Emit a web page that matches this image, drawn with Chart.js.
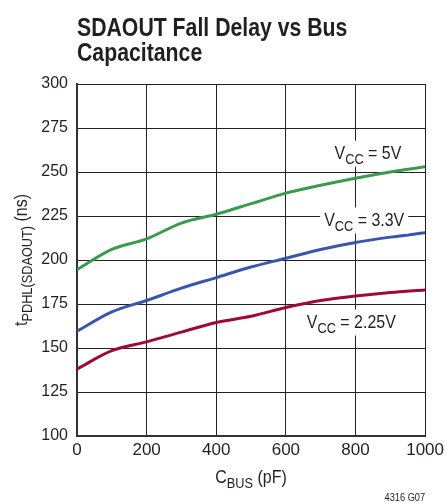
<!DOCTYPE html>
<html>
<head>
<meta charset="utf-8">
<script src="https://cdn.jsdelivr.net/npm/chart.js@4"></script>
<style>
  html, body { margin: 0; padding: 0; background: #fff; }
  #wrap { width: 448px; height: 504px; }
</style>
</head>
<body>
<div id="wrap"><canvas id="chart" width="448" height="504"></canvas></div>
<script>
// values
const capValues = [0, 100, 200, 300, 400, 500, 600, 700, 800, 900, 1000];
const delay5V   = [194.5, 206, 212, 221, 226, 232, 238, 242.5, 246.5, 250, 253];
const delay3V3  = [159.5, 170.5, 177, 184, 190, 196, 201, 206, 210, 213, 215.5];
const delay2V25 = [138, 148.5, 153.5, 159, 164.5, 168, 173, 177, 179.5, 181.5, 183];
const seriesNames = ['VCC = 5V', 'VCC = 3.3V', 'VCC = 2.25V'];

const FONT = '"Liberation Sans", Arial, sans-serif';
const TEXT = '#231f20';
const NARROW = 0.84;

// draw text pieces (some as subscript), squeezed horizontally
function measureParts(ctx, parts, size, weight) {
    let total = 0;
    parts.forEach(p => {
        ctx.font = (weight || '') + ' ' + (p.sub ? size * 0.8 : size) + 'px ' + FONT;
        p.w = ctx.measureText(p.t).width * NARROW;
        total += p.w;
    });
    return total;
}

function drawParts(ctx, parts, x, y, size, align, weight) {
    const total = measureParts(ctx, parts, size, weight);
    let cx = align === 'center' ? x - total / 2 : (align === 'right' ? x - total : x);
    ctx.textAlign = 'left';
    ctx.textBaseline = 'alphabetic';
    parts.forEach(p => {
        ctx.font = (weight || '') + ' ' + (p.sub ? size * 0.8 : size) + 'px ' + FONT;
        ctx.save();
        ctx.translate(cx, p.sub ? y + size * 0.28 : y);
        ctx.scale(NARROW, 1);
        ctx.fillText(p.t, 0, 0);
        ctx.restore();
        cx += p.w;
    });
    return total;
}

const labels = [
    { parts: [{ t: 'V' }, { t: 'CC', sub: true }, { t: ' = 5V' }], x: 836, y: 261 },
    { parts: [{ t: 'V' }, { t: 'CC', sub: true }, { t: ' = 3.3V' }], x: 825, y: 223 },
    { parts: [{ t: 'V' }, { t: 'CC', sub: true }, { t: ' = 2.25V' }], x: 788, y: 165 }
];

const annotations = {
    id: 'annotations',
    afterDatasetsDraw(chart) {
        const ctx = chart.ctx;
        const xs = chart.scales.x, ys = chart.scales.y;
        ctx.save();
        labels.forEach(l => {
            const px = xs.getPixelForValue(l.x);
            const py = ys.getPixelForValue(l.y);
            const w = measureParts(ctx, l.parts, 19);
            ctx.fillStyle = '#fff';
            ctx.fillRect(px - w / 2 - 4, py - 12, w + 8, 26);
            ctx.fillStyle = TEXT;
            drawParts(ctx, l.parts, px, py + 6, 19, 'center');
        });
        ctx.restore();
    },
    afterDraw(chart) {
        const ctx = chart.ctx;
        const area = chart.chartArea;
        ctx.save();
        ctx.fillStyle = TEXT;
        // title
        drawParts(ctx, [{ t: 'SDAOUT Fall Delay vs Bus' }], 77, 36, 25.3, 'left', 'bold');
        drawParts(ctx, [{ t: 'Capacitance' }], 77, 61, 25.3, 'left', 'bold');
        // x axis title
        drawParts(ctx, [{ t: 'C' }, { t: 'BUS', sub: true }, { t: ' (pF)' }],
            (area.left + area.right) / 2, 483, 19, 'center');
        // y axis title
        ctx.translate(27, (area.top + area.bottom) / 2);
        ctx.rotate(-Math.PI / 2);
        drawParts(ctx, [{ t: 't' }, { t: 'PDHL(SDAOUT)', sub: true }, { t: ' (ns)' }],
            0, 0, 19, 'center');
        ctx.restore();
        // figure code
        ctx.save();
        ctx.fillStyle = TEXT;
        drawParts(ctx, [{ t: '4316 G07' }], area.right, 501, 11, 'right');
        ctx.restore();
    }
};

const colors = ['#3a9a4e', '#3a56aa', '#9e0a36'];
const dataSets = [delay5V, delay3V3, delay2V25];

new Chart(document.getElementById('chart'), {
    type: 'line',
    data: {
        labels: capValues,
        datasets: dataSets.map((d, i) => ({
            label: seriesNames[i],
            data: d.map((v, k) => ({ x: capValues[k], y: v })),
            borderColor: colors[i],
            borderWidth: 3,
            pointRadius: 0,
            cubicInterpolationMode: 'monotone',
            fill: false
        }))
    },
    options: {
        responsive: false,
        animation: false,
        events: [],
        layout: { padding: { left: 0, right: 20, top: 84, bottom: 0 } },
        plugins: { legend: { display: false }, tooltip: { enabled: false } },
        scales: {
            x: {
                type: 'linear',
                min: 0, max: 1000,
                afterFit(s) { s.height = 68; },
                ticks: {
                    stepSize: 200, color: TEXT, font: { family: FONT, size: 17 }, padding: 4, maxRotation: 0,
                    callback: v => String(v)
                },
                grid: { color: '#222', lineWidth: 1, drawTicks: false },
                border: { color: '#333', width: 2 }
            },
            y: {
                min: 100, max: 300,
                afterFit(s) { s.width = 77; },
                ticks: { stepSize: 25, color: TEXT, font: { family: FONT, size: 16 }, padding: 9 },
                grid: { color: '#222', lineWidth: 1, drawTicks: false },
                border: { color: '#333', width: 2 }
            }
        }
    },
    plugins: [annotations]
});
</script>
</body>
</html>
